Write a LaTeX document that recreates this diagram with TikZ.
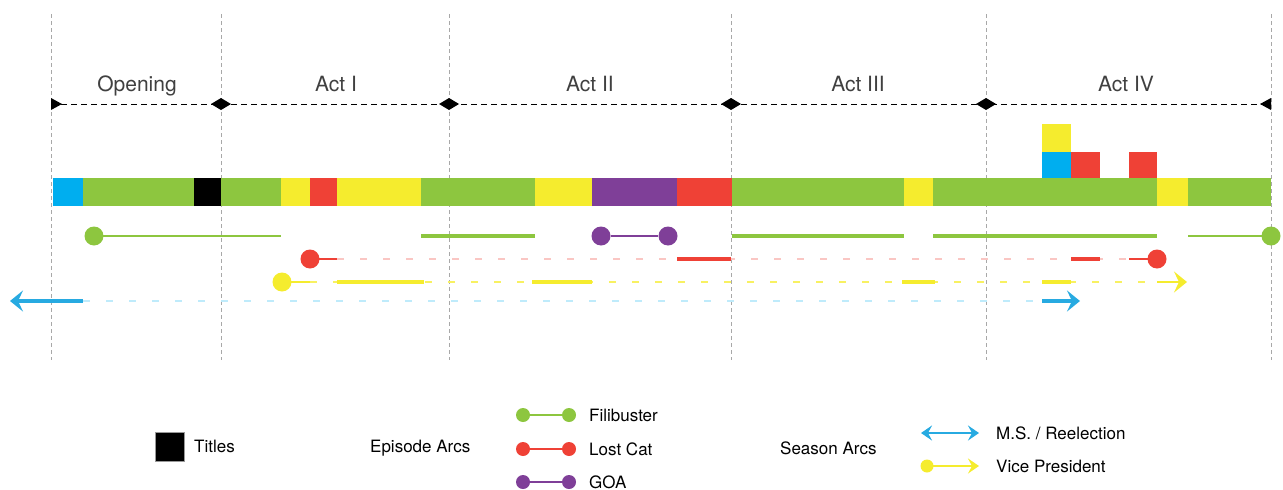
\documentclass[tikz,border=0pt]{standalone}
\usepackage{fontspec}
\setmainfont{TeX Gyre Heros}
\usetikzlibrary{arrows.meta}
\definecolor{cgreen}{HTML}{8DC63F}
\definecolor{ccyan}{HTML}{00AEEF}
\definecolor{carrow}{HTML}{27AAE1}
\definecolor{cyellow}{HTML}{F5EC2E}
\definecolor{cred}{HTML}{EF4136}
\definecolor{cpurple}{HTML}{7F3F98}
\definecolor{cgrid}{HTML}{A8A8A8}
\tikzset{
  gridline/.style={draw=cgrid, line width=1pt, dash pattern=on 4pt off 3pt},
  timeline/.style={draw=black, line width=1pt, dash pattern=on 6pt off 4pt},
  thickarc/.style={line width=3.2pt},
  thinarc/.style={line width=2.2pt},
  fadearc/.style={line width=2pt, dash pattern=on 7pt off 16pt},
  dot/.style={circle, fill=#1, inner sep=0pt, minimum size=19pt},
  ldot/.style={circle, fill=#1, inner sep=0pt, minimum size=14pt},
  actlabel/.style={anchor=base, inner sep=0pt, font=\fontsize{21}{25}\selectfont, text=black!75},
  legtext/.style={anchor=base west, inner sep=0pt, font=\fontsize{17}{20}\selectfont},
  bigtip/.style={-{Stealth[length=13pt,width=21pt,inset=5pt]}},
  smalltip/.style={{Stealth[length=11pt,width=15pt,inset=4pt]}-{Stealth[length=11pt,width=15pt,inset=4pt]}},
  smallrtip/.style={-{Stealth[length=11pt,width=15pt,inset=4pt]}},
}
\begin{document}
\begin{tikzpicture}[x=1pt,y=-1pt]
\useasboundingbox (0,0) rectangle (1283,490);
% act boundaries
\foreach \x/\n in {51/b0,221/b1,449/b2,731/b3,986/b4,1271/b5}{
  \coordinate (\n top) at (\x,14);
  \coordinate (\n bot) at (\x,360);
  \coordinate (\n mid) at (\x,104);
  \draw[gridline] (\n top) -- (\n bot);
}
\draw[timeline] (b0mid) -- (b5mid);
\fill (51,98) -- (62,104) -- (51,110) -- cycle;
\fill (1271,98) -- (1260,104) -- (1271,110) -- cycle;
\foreach \x in {221,449,731,986}{
  \fill (\x-10,104) -- (\x,98) -- (\x+10,104) -- (\x,110) -- cycle;
}
% act labels
\node[actlabel] (lopen) at (137,91) {Opening};
\node[actlabel] (lact1) at (336,91) {Act I};
\node[actlabel] (lact2) at (590,91) {Act II};
\node[actlabel] (lact3) at (858,91) {Act III};
\node[actlabel] (lact4) at (1126,91) {Act IV};
% main bar
\foreach \a/\b/\c in {53/83/ccyan,83/194/cgreen,194/221/black,221/281/cgreen,281/310/cyellow,310/337/cred,337/421/cyellow,421/535/cgreen,535/592/cyellow,592/677/cpurple,677/732/cred,732/904/cgreen,904/933/cyellow,933/1157/cgreen,1157/1188/cyellow,1188/1271/cgreen}{
  \fill[\c] (\a,178) rectangle (\b,206);
}
% stacked blocks
\fill[ccyan] (1042,152) rectangle (1071,178);
\fill[cred] (1071,152) rectangle (1100,178);
\fill[cred] (1129,152) rectangle (1157,178);
\fill[cyellow] (1042,124) rectangle (1071,152);
% Filibuster arc
\node[dot=cgreen] (fa) at (94,236) {};
\node[dot=cgreen] (fb) at (1271,236) {};
\coordinate (f1) at (281,236);
\coordinate (f2) at (1188,236);
\draw[cgreen,thinarc] (fa.center) -- (f1);
\draw[cgreen,thickarc] (421,236) -- (535,236);
\draw[cgreen,thickarc] (732,236) -- (904,236);
\draw[cgreen,thickarc] (933,236) -- (1157,236);
\draw[cgreen,thinarc] (f2) -- (fb.center);
% GOA arc
\node[dot=cpurple] (ga) at (601,236) {};
\node[dot=cpurple] (gb) at (668,236) {};
\draw[cpurple,thinarc] (ga) -- (gb);
% Lost Cat arc
\coordinate (r1) at (337,259);
\coordinate (r2) at (1129,259);
\draw[cred!30,fadearc] (r1) -- (r2);
\node[dot=cred] (ra) at (310,259) {};
\node[dot=cred] (rb) at (1157,259) {};
\draw[cred,thinarc] (ra.center) -- (r1);
\draw[cred,thickarc] (677,259) -- (731,259);
\draw[cred,thickarc] (1071,259) -- (1100,259);
\draw[cred,thinarc] (r2) -- (rb.center);
% Vice President arc
\coordinate (y1) at (310,282);
\coordinate (y2) at (1157,282);
\coordinate (yend) at (1187,282);
\draw[cyellow!75,fadearc] (y1) -- (y2);
\node[dot=cyellow] (ya) at (282,282) {};
\draw[cyellow,thinarc] (ya.center) -- (y1);
\draw[cyellow,thickarc] (337,282) -- (424,282);
\draw[cyellow,thickarc] (532,282) -- (592,282);
\draw[cyellow,thickarc] (902,282) -- (935,282);
\draw[cyellow,thickarc] (1042,282) -- (1071,282);
\draw[cyellow,thinarc,bigtip] (y2) -- (yend);
% M.S. arc
\coordinate (c0) at (10,301);
\coordinate (c1) at (83,301);
\coordinate (c2) at (1042,301);
\coordinate (c3) at (1080,301);
\draw[ccyan!25,fadearc] (c1) -- (c2);
\draw[carrow,thickarc,bigtip] (c1) -- (c0);
\draw[carrow,thickarc,bigtip] (c2) -- (c3);
% legend
\draw[black!40, fill=black, line width=0.8pt] (155,432) rectangle (184,461);
\node[legtext] (ttitles) at (194,452.5) {Titles};
\node[legtext] (tepi) at (370,452.5) {Episode Arcs};
\node[ldot=cgreen] (lf1) at (523,415) {};
\node[ldot=cgreen] (lf2) at (569,415) {};
\draw[cgreen,line width=2pt] (lf1) -- (lf2);
\node[legtext] (tfil) at (589,421.5) {Filibuster};
\node[ldot=cred] (lr1) at (523,449) {};
\node[ldot=cred] (lr2) at (569,449) {};
\draw[cred,line width=2pt] (lr1) -- (lr2);
\node[legtext] (tcat) at (589,455.5) {Lost Cat};
\node[ldot=cpurple] (lp1) at (523,482) {};
\node[ldot=cpurple] (lp2) at (569,482) {};
\draw[cpurple,line width=2pt] (lp1) -- (lp2);
\node[legtext] (tgoa) at (589,488.5) {GOA};
\node[legtext] (tsea) at (780,454.5) {Season Arcs};
\coordinate (lm1) at (921,433);
\coordinate (lm2) at (979,433);
\draw[carrow,line width=2pt,smalltip] (lm1) -- (lm2);
\node[legtext] (tms) at (996,439.5) {M.S. / Reelection};
\node[circle, fill=cyellow, inner sep=0pt, minimum size=13pt] (lv1) at (927,466) {};
\coordinate (lv2) at (979,466);
\draw[cyellow,line width=2pt,smallrtip] (lv1.center) -- (lv2);
\node[legtext] (tvp) at (996,472.5) {Vice President};
\end{tikzpicture}
\end{document}
